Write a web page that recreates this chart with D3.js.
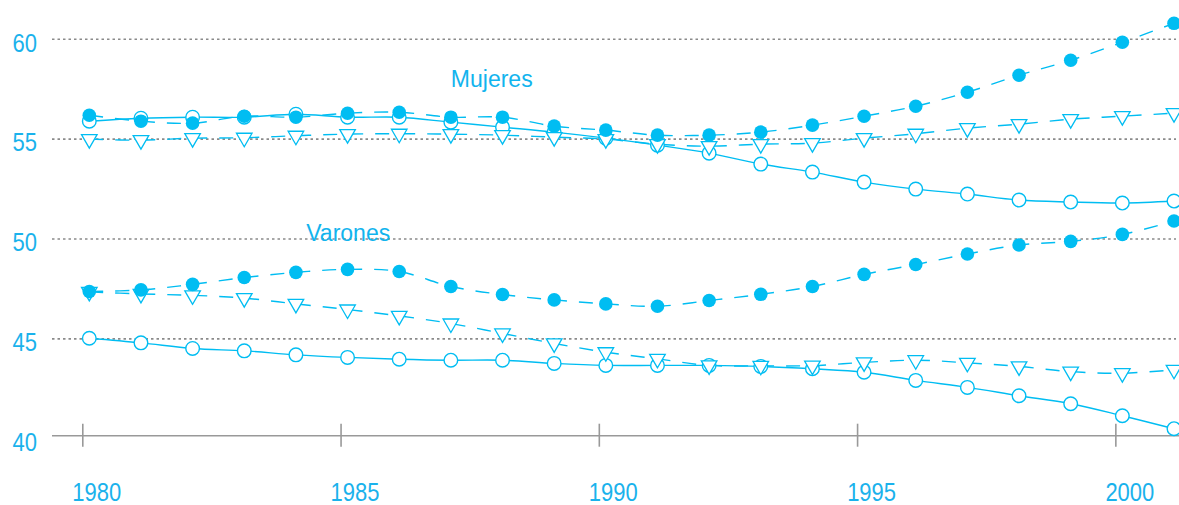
<!DOCTYPE html>
<html>
<head>
<meta charset="utf-8">
<script src="https://cdn.jsdelivr.net/npm/d3@7"></script>
<style>
  body { margin: 0; background: #fff; }
  .tick-label { font-family: "Liberation Sans", Arial, sans-serif; font-size: 26.5px; fill: #1ab2ec; }
  .series-label { font-family: "Liberation Sans", Arial, sans-serif; font-size: 23px; fill: #12b4ee; }
</style>
</head>
<body>
<svg id="chart" width="1179" height="505"></svg>
<script>
let years = d3.range(1980, 2002);
let yTicks = [45, 50, 55, 60];
let xTicks = [1980, 1985, 1990, 1995, 2000];

// Mujeres
let mujeresFilled = [56.2, 55.9, 55.8, 56.15, 56.1, 56.3, 56.35, 56.1, 56.1, 55.65, 55.45, 55.2,
  55.2, 55.35, 55.7, 56.15, 56.65, 57.35, 58.2, 58.95, 59.85, 60.8];
let mujeresOpen = [55.9, 56.05, 56.1, 56.1, 56.25, 56.1, 56.1, 55.85, 55.6, 55.35, 55.05, 54.7,
  54.3, 53.75, 53.35, 52.85, 52.5, 52.25, 51.95, 51.85, 51.8, 51.9];
let mujeresTri = [55.0, 54.95, 55.05, 55.07, 55.17, 55.25, 55.27, 55.25, 55.2, 55.1, 55.0, 54.75,
  54.65, 54.75, 54.8, 55.05, 55.27, 55.55, 55.75, 56.0, 56.15, 56.3];

// Varones
let varonesFilled = [47.37, 47.45, 47.73, 48.07, 48.33, 48.48, 48.37, 47.62, 47.22, 46.95, 46.75, 46.63,
  46.92, 47.23, 47.62, 48.23, 48.72, 49.25, 49.7, 49.88, 50.23, 50.9];
let varonesOpen = [45.03, 44.8, 44.52, 44.4, 44.2, 44.07, 43.98, 43.93, 43.93, 43.77, 43.67, 43.67,
  43.67, 43.62, 43.5, 43.33, 42.92, 42.57, 42.15, 41.75, 41.15, 40.5];
let varonesTri = [47.35, 47.25, 47.18, 47.04, 46.75, 46.47, 46.15, 45.77, 45.27, 44.77, 44.33, 44.0,
  43.67, 43.65, 43.66, 43.82, 43.93, 43.8, 43.62, 43.36, 43.28, 43.45];

let labels = [
  {text: 'Mujeres', year: 1987.0, value: 57.6},
  {text: 'Varones', year: 1984.2, value: 49.9}
];

let blue = '#00bdf2';
let narrow = 0.83; // tick labels are set in a condensed face
let svg = d3.select('#chart');

let sx = d3.scaleLinear().domain([1980, 2001]).range([89.3, 1174]);
let sy = d3.scaleLinear().domain([40, 60]).range([438.7, 39.3]);

// grid
svg.selectAll('.grid')
  .data(yTicks)
  .enter()
  .append('line')
  .attr('class', 'grid')
  .attr('x1', 52)
  .attr('x2', 1176)
  .attr('y1', d => sy(d))
  .attr('y2', d => sy(d))
  .attr('stroke', '#8a8a8a')
  .attr('stroke-width', 1.6)
  .attr('stroke-dasharray', '2.5,3');

// y labels (40 sits by the baseline)
svg.selectAll('.ylab')
  .data([40].concat(yTicks))
  .enter()
  .append('text')
  .attr('class', 'tick-label')
  .attr('transform', d => `translate(37,${sy(d) + 12.3}) scale(${narrow},1)`)
  .attr('text-anchor', 'end')
  .text(d => d);

// x axis
let baseY = sy(40) - 3;
let axis = svg.append('g')
  .attr('transform', `translate(0,${baseY})`)
  .call(d3.axisBottom(sx).tickValues(xTicks).tickSize(0).tickFormat(''));
axis.select('.domain').remove();
axis.append('line')
  .attr('x1', 52).attr('x2', 1179)
  .attr('stroke', '#999').attr('stroke-width', 1.6);
axis.selectAll('.tick').append('line')
  .attr('x1', -7).attr('x2', -7)
  .attr('y1', -12).attr('y2', 11)
  .attr('stroke', '#999').attr('stroke-width', 1.6);
axis.selectAll('.tick').append('text')
  .attr('class', 'tick-label')
  .attr('transform', `translate(7,65) scale(${narrow},1)`)
  .attr('text-anchor', 'middle')
  .text(d => d);

let line = d3.line()
  .x((d, i) => sx(years[i]))
  .y(d => sy(d))
  .curve(d3.curveCatmullRom.alpha(0.5));

function drawLine(values, dashed){
  svg.append('path')
    .datum(values)
    .attr('d', line)
    .attr('fill', 'none')
    .attr('stroke', blue)
    .attr('stroke-width', 1.4)
    .attr('stroke-dasharray', dashed ? '14,12' : null);
}

function drawCircles(values, filled){
  svg.append('g').selectAll('circle')
    .data(values)
    .enter()
    .append('circle')
    .attr('cx', (d, i) => sx(years[i]))
    .attr('cy', d => sy(d))
    .attr('r', filled ? 6.8 : 6.8)
    .attr('fill', filled ? blue : '#fff')
    .attr('stroke', filled ? 'none' : blue)
    .attr('stroke-width', 1.4);
}

function drawTriangles(values){
  let tri = d3.symbol().type(d3.symbolTriangle).size(105);
  svg.append('g').selectAll('path')
    .data(values)
    .enter()
    .append('path')
    .attr('d', tri)
    .attr('transform', (d, i) => `translate(${sx(years[i])},${sy(d)}) rotate(180)`)
    .attr('fill', '#fff')
    .attr('stroke', blue)
    .attr('stroke-width', 1.3);
}

[mujeresOpen, varonesOpen].forEach(v => drawLine(v, false));
[mujeresTri, varonesTri, mujeresFilled, varonesFilled].forEach(v => drawLine(v, true));

drawCircles(mujeresOpen, false);
drawCircles(varonesOpen, false);
drawTriangles(mujeresTri);
drawTriangles(varonesTri);
drawCircles(mujeresFilled, true);
drawCircles(varonesFilled, true);

svg.selectAll('.series-label')
  .data(labels)
  .enter()
  .append('text')
  .attr('class', 'series-label')
  .attr('x', d => sx(d.year))
  .attr('y', d => sy(d.value))
  .text(d => d.text);
</script>
</body>
</html>
